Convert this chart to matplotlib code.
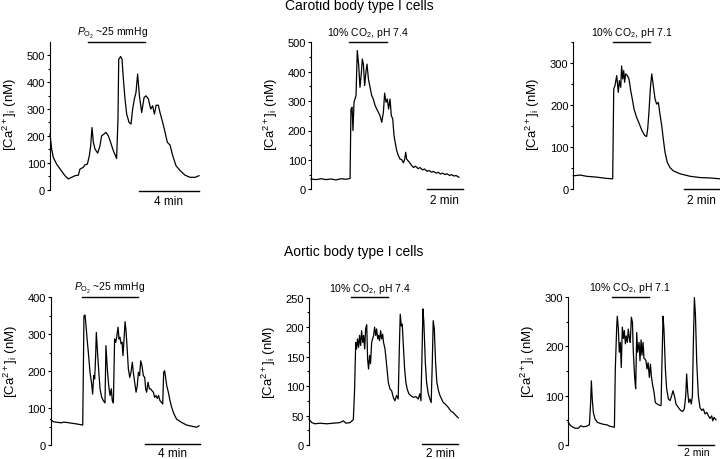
# Ca2+ responses of carotid and aortic body type I cells

import matplotlib
matplotlib.use('Agg')
import matplotlib.pyplot as plt
from matplotlib.ticker import MultipleLocator

plt.rcParams['font.family'] = ['Liberation Sans', 'DejaVu Sans']
plt.rcParams['mathtext.fontset'] = 'custom'
plt.rcParams['mathtext.rm'] = 'Liberation Sans'
plt.rcParams['mathtext.it'] = 'Liberation Sans:italic'
plt.rcParams['mathtext.bf'] = 'Liberation Sans:bold'

# ---- data: time (min) and [Ca2+]i (nM) ----

# carotid, hypoxia
cb_hyp_t = [0, 0.11, 0.22, 0.44, 0.67, 1.0, 1.22, 1.44, 1.67, 1.89, 2.0, 2.22, 2.33, 2.49, 2.62,
            2.71, 2.8, 2.89, 3.0, 3.18, 3.33, 3.44, 3.6, 3.73, 3.89, 4.04, 4.22, 4.44, 4.53, 4.58,
            4.71, 4.8, 4.89, 5.0, 5.11, 5.27, 5.4, 5.51, 5.62, 5.73, 5.84, 5.96, 6.11, 6.27, 6.4,
            6.56, 6.71, 6.84, 6.96, 7.07, 7.22, 7.33, 7.51, 7.67, 7.82, 8.0, 8.18, 8.4, 8.67, 9.0,
            9.33, 9.67, 9.93]
cb_hyp_ca = [207, 151, 120, 95, 77, 52, 40, 46, 52, 54, 77, 83, 93, 95, 126,
             163, 231, 176, 151, 136, 163, 200, 207, 213, 200, 176, 145, 116, 262, 485,
             495, 485, 411, 337, 281, 250, 244, 300, 337, 361, 430, 349, 287, 343, 349,
             337, 300, 312, 281, 314, 314, 287, 250, 213, 176, 166, 126, 89, 71, 54,
             46, 46, 52]

# carotid, 10% CO2 pH 7.4
cb_co2_t = [0, 0.28, 0.56, 0.83, 1.11, 1.39, 1.67, 1.94, 2.17, 2.22, 2.28, 2.33, 2.39, 2.44, 2.5,
            2.57, 2.65, 2.72, 2.8, 2.85, 2.91, 2.98, 3.06, 3.11, 3.19, 3.28, 3.37, 3.46, 3.56,
            3.65, 3.74, 3.83, 3.93, 4.02, 4.09, 4.17, 4.24, 4.31, 4.39, 4.46, 4.54, 4.61, 4.69,
            4.76, 4.85, 4.94, 5.04, 5.13, 5.2, 5.26, 5.31, 5.46, 5.59, 5.7, 5.8, 5.95, 6.05, 6.2,
            6.3, 6.45, 6.55, 6.7, 6.8, 6.95, 7.05, 7.2, 7.3, 7.45, 7.55, 7.7, 7.8, 7.95, 8.05, 8.22]
cb_co2_ca = [35, 33, 36, 33, 35, 32, 36, 34, 37, 273, 279, 200, 296, 307, 319,
             472, 421, 347, 398, 443, 426, 353, 404, 426, 375, 347, 319, 307, 285,
             273, 262, 251, 228, 262, 327, 296, 307, 273, 307, 251, 239, 183, 154,
             132, 115, 103, 101, 90, 101, 126, 103, 92, 81, 74, 79, 70, 74, 66,
             69, 61, 64, 58, 61, 55, 58, 52, 55, 50, 53, 47, 50, 45, 47, 41]

# carotid, 10% CO2 pH 7.1
cb_acid_t = [0, 0.38, 0.76, 1.33, 1.9, 2.25, 2.31, 2.38, 2.48, 2.57, 2.63, 2.71, 2.76, 2.82, 2.88,
             2.93, 2.99, 3.09, 3.18, 3.28, 3.37, 3.47, 3.62, 3.77, 3.92, 4.08, 4.19, 4.25, 4.32,
             4.4, 4.48, 4.57, 4.67, 4.76, 4.86, 4.95, 5.05, 5.14, 5.24, 5.37, 5.52, 5.71, 6.1,
             6.67, 7.24, 7.81, 8.38]
cb_acid_ca = [32, 34, 31, 29, 26, 25, 239, 247, 271, 231, 259, 243, 294, 263, 283,
              255, 275, 271, 263, 235, 215, 191, 171, 156, 140, 128, 126, 144, 183,
              239, 275, 247, 215, 203, 207, 179, 152, 120, 88, 64, 52, 44, 37,
              31, 28, 27, 25]

# aortic, hypoxia
ab_hyp_t = [0, 0.19, 0.56, 0.8, 0.92, 1.16, 1.53, 1.89, 2.33, 2.42, 2.5, 2.57, 2.67, 2.76, 2.86,
            2.98, 3.05, 3.13, 3.2, 3.27, 3.32, 3.42, 3.52, 3.59, 3.71, 3.83, 3.95, 4.02, 4.12,
            4.22, 4.32, 4.41, 4.48, 4.56, 4.65, 4.73, 4.8, 4.9, 4.97, 5.04, 5.12, 5.19, 5.26,
            5.33, 5.41, 5.48, 5.55, 5.65, 5.75, 5.84, 5.94, 6.01, 6.11, 6.21, 6.3, 6.38, 6.47,
            6.55, 6.64, 6.74, 6.84, 6.91, 6.98, 7.08, 7.18, 7.27, 7.37, 7.47, 7.56, 7.66, 7.76,
            7.85, 7.95, 8.05, 8.15, 8.22, 8.29, 8.36, 8.44, 8.56, 8.68, 8.8, 8.97, 9.16, 9.53,
            9.89, 10.25, 10.62, 10.79]
ab_hyp_ca = [69, 63, 61, 60, 62, 61, 59, 57, 54, 350, 352, 323, 278, 242, 197,
             165, 138, 188, 179, 242, 305, 242, 188, 152, 129, 120, 114, 269, 206,
             161, 134, 152, 120, 114, 287, 278, 292, 319, 287, 292, 274, 278, 242,
             283, 334, 310, 269, 206, 183, 197, 224, 197, 170, 143, 161, 197, 188,
             228, 215, 188, 183, 152, 143, 170, 152, 152, 147, 143, 129, 134, 126,
             134, 120, 116, 111, 197, 201, 183, 161, 143, 120, 102, 84, 70, 61,
             54, 51, 48, 52]

# aortic, 10% CO2 pH 7.4
ab_co2_t = [0, 0.15, 0.33, 0.6, 0.96, 1.33, 1.69, 1.87, 2.02, 2.24, 2.42, 2.49, 2.55, 2.6, 2.65,
            2.71, 2.76, 2.82, 2.87, 2.93, 2.98, 3.04, 3.09, 3.15, 3.2, 3.25, 3.31, 3.36, 3.42,
            3.47, 3.53, 3.58, 3.64, 3.69, 3.75, 3.8, 3.85, 3.91, 3.96, 4.02, 4.07, 4.15, 4.24,
            4.33, 4.42, 4.51, 4.6, 4.69, 4.78, 4.87, 4.93, 4.98, 5.04, 5.09, 5.15, 5.22, 5.29,
            5.36, 5.45, 5.55, 5.69, 5.84, 5.96, 6.05, 6.11, 6.16, 6.22, 6.27, 6.35, 6.42, 6.51,
            6.6, 6.67, 6.73, 6.78, 6.84, 6.91, 6.98, 7.07, 7.15, 7.24, 7.33, 7.42, 7.51, 7.6,
            7.73, 7.87, 8.02, 8.15]
ab_co2_ca = [44, 38, 36, 37, 36, 37, 38, 41, 37, 38, 43, 95, 174, 163, 180,
             166, 186, 169, 194, 174, 186, 163, 197, 204, 146, 129, 152, 138, 174,
             180, 186, 200, 186, 197, 180, 186, 177, 194, 180, 188, 174, 163, 135,
             106, 95, 92, 81, 75, 84, 78, 163, 222, 202, 205, 169, 129, 106,
             95, 87, 84, 81, 82, 78, 87, 75, 140, 231, 208, 140, 106, 87,
             78, 72, 140, 211, 197, 140, 106, 92, 84, 78, 72, 70, 67, 64,
             58, 55, 50, 46]

# aortic, 10% CO2 pH 7.1
ab_acid_t = [0, 0.13, 0.37, 0.56, 0.69, 0.83, 1.02, 1.17, 1.24, 1.28, 1.33, 1.39, 1.48, 1.61, 1.76,
             1.94, 2.13, 2.31, 2.56, 2.61, 2.69, 2.72, 2.78, 2.83, 2.89, 2.94, 3.0, 3.06, 3.11,
             3.17, 3.22, 3.28, 3.33, 3.39, 3.44, 3.5, 3.56, 3.61, 3.69, 3.74, 3.8, 3.85, 3.93,
             3.98, 4.04, 4.09, 4.15, 4.2, 4.26, 4.31, 4.37, 4.43, 4.5, 4.56, 4.61, 4.69, 4.76,
             4.83, 4.94, 5.09, 5.15, 5.2, 5.26, 5.31, 5.39, 5.46, 5.56, 5.65, 5.74, 5.81, 5.89,
             5.98, 6.11, 6.24, 6.35, 6.44, 6.52, 6.57, 6.63, 6.69, 6.76, 6.83, 6.89, 6.94, 7.0,
             7.06, 7.13, 7.22, 7.31, 7.41, 7.5, 7.59, 7.69, 7.78, 7.87, 7.96, 8.02, 8.09, 8.2]
ab_acid_ca = [46, 39, 34, 34, 39, 37, 38, 41, 86, 130, 93, 66, 53, 46, 44,
              42, 41, 38, 36, 154, 242, 261, 235, 188, 208, 157, 239, 216, 232,
              205, 221, 208, 235, 216, 208, 259, 249, 188, 134, 114, 228, 188, 208,
              171, 213, 182, 208, 176, 174, 171, 154, 167, 137, 164, 140, 120, 107,
              86, 83, 80, 80, 168, 261, 235, 154, 114, 93, 90, 100, 110, 100,
              83, 76, 70, 68, 73, 100, 144, 107, 86, 93, 83, 100, 201, 299,
              262, 168, 100, 76, 70, 73, 63, 66, 59, 54, 59, 49, 56, 51]

# stimulus periods (min) and labels
hyp_label = r'$P_{\mathrm{O_2}}$ ~25 mmHg'
co2_label = r'10% CO$_2$, pH 7.4'
acid_label = r'10% CO$_2$, pH 7.1'
cb_stim = [(2.51, 6.33), (2.13, 4.22), (2.27, 4.4)]
ab_stim = [(2.25, 6.38), (2.29, 4.31), (2.41, 4.46)]

# scale bars (min)
cb_bars = [(5.93, 9.93, '4 min'), (6.43, 8.43, '2 min'), (6.32, 8.32, '2 min')]
ab_bars = [(6.86, 10.86, '4 min'), (6.15, 8.15, '2 min'), (6.11, 8.11, '2 min')]

W, H = 720, 460
fig = plt.figure(figsize=(W / 100, H / 100), dpi=100)


def panel(box, t, ca, ymax, major, stim, stim_txt, stim_x, bar, bar_y, lab_y,
          bar_fs=8.5, bar_off=-7.5):
    left, top, right, bottom = box
    ax = fig.add_axes([left / W, 1 - bottom / H, (right - left) / W, (bottom - top) / H])
    ax.plot(t, ca, color='black', lw=0.9, clip_on=False)
    ax.set_xlim(t[0], t[-1])
    ax.set_ylim(0, ymax)
    for s in ['top', 'right', 'bottom']:
        ax.spines[s].set_visible(False)
    ax.spines['left'].set_linewidth(0.8)
    ax.set_xticks([])
    ax.yaxis.set_major_locator(MultipleLocator(major))
    ax.yaxis.set_minor_locator(MultipleLocator(major / 2))
    ax.tick_params(axis='y', which='major', length=2.5, width=0.8, pad=1, labelsize=8)
    ax.tick_params(axis='y', which='minor', length=1.5, width=0.8)
    ax.set_ylabel(r'[Ca$^{2+}$]$_{\mathrm{i}}$ (nM)', fontsize=9.5)
    ax.yaxis.set_label_coords(-31 / (right - left), lab_y)

    # stimulus bar + label
    ax.plot(stim, [ymax * 1.003] * 2, color='black', lw=1.0, clip_on=False)
    ax.annotate(stim_txt, (stim_x, ymax), xytext=(0, 5), textcoords='offset points',
                ha='center', va='baseline', fontsize=7.5, annotation_clip=False)

    # time scale bar
    x0, x1, txt = bar
    ax.plot([x0, x1], [bar_y, bar_y], color='black', lw=1.0, clip_on=False)
    ax.annotate(txt, ((x0 + x1) / 2, bar_y), xytext=(0, bar_off), textcoords='offset points',
                ha='center', va='center', fontsize=bar_fs, annotation_clip=False)
    return ax


panel((50, 43, 199, 190.7), cb_hyp_t, cb_hyp_ca, 549, 100, cb_stim[0], hyp_label, 4.15,
      cb_bars[0], -4, 0.515)
panel((311, 43.3, 459, 190.3), cb_co2_t, cb_co2_ca, 500, 100, cb_stim[1], co2_label,
      sum(cb_stim[1]) / 2, cb_bars[1], 0, 0.515)
panel((573.3, 43, 720, 190.3), cb_acid_t, cb_acid_ca, 351, 100, cb_stim[2], acid_label,
      sum(cb_stim[2]) / 2, cb_bars[2], 0, 0.515)
panel((50.7, 298.3, 199, 446), ab_hyp_t, ab_hyp_ca, 400, 100, ab_stim[0], hyp_label,
      sum(ab_stim[0]) / 2, ab_bars[0], 3, 0.57, bar_fs=8.5, bar_off=-6.5)
panel((309, 298.7, 458.3, 446), ab_co2_t, ab_co2_ca, 250, 50, ab_stim[1], co2_label,
      sum(ab_stim[1]) / 2, ab_bars[1], 2, 0.57, bar_fs=8.5, bar_off=-6.5)
panel((568.3, 298, 716, 446), ab_acid_t, ab_acid_ca, 300, 100, ab_stim[2], acid_label,
      sum(ab_stim[2]) / 2, ab_bars[2], 1, 0.57, bar_fs=7.5, bar_off=-5.2)

fig.text(359 / W, 1 - 6 / H, 'Carotid body type I cells', ha='center', va='center', fontsize=10)
fig.text(354 / W, 1 - 252 / H, 'Aortic body type I cells', ha='center', va='center', fontsize=10)

fig.savefig('out.png', dpi=100)
